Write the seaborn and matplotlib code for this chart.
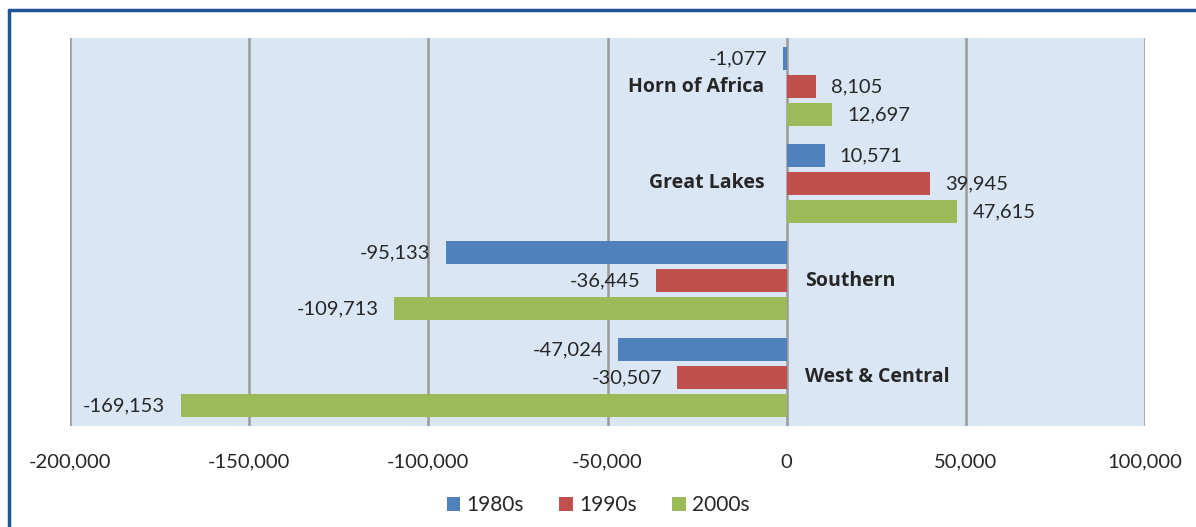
import pandas as pd
import seaborn as sns
from matplotlib import pyplot as plt
from matplotlib.lines import Line2D

# 地域と年代ごとの値
regions = ["Horn of Africa", "Great Lakes", "Southern", "West & Central"]
decades = ["1980s", "1990s", "2000s"]
values_1980s = [-1077, 10571, -95133, -47024]
values_1990s = [8105, 39945, -36445, -30507]
values_2000s = [12697, 47615, -109713, -169153]
x_ticks = [-200000, -150000, -100000, -50000, 0, 50000, 100000]

colors = ["#4f81bd", "#c0504d", "#9bbb59"]


def build_df():
    rows = []
    for dec, vals in zip(decades, [values_1980s, values_1990s, values_2000s]):
        for reg, v in zip(regions, vals):
            rows.append({"region": reg, "decade": dec, "value": v})
    return pd.DataFrame(rows)


df = build_df()

sns.set_style("white")
plt.rcParams["font.family"] = ["Lato", "DejaVu Sans"]

fig = plt.figure(figsize=(11.96, 5.27), dpi=100)
ax = fig.add_axes([70 / 1196, 1 - 426 / 527, 1075 / 1196, 388 / 527])

sns.barplot(
    data=df, y="region", x="value", hue="decade", order=regions, hue_order=decades,
    palette=colors, orient="h", width=0.866, gap=0.18, ax=ax, saturation=1, linewidth=0,
)

ax.set_facecolor("#dae6f4")
ax.set_xlim(-200000, 100000)
ax.set_ylim(len(regions) - 0.5, -0.5)
ax.set_xticks(x_ticks)
ax.set_xticklabels([f"{t:,}" for t in x_ticks], fontsize=14.5)
ax.tick_params(axis="x", length=0, pad=20)
ax.set_yticks([])
ax.set_xlabel("")
ax.set_ylabel("")
for s in ax.spines.values():
    s.set_visible(False)
ax.grid(axis="x", color="#9a9a9a", linewidth=1.8)
ax.grid(axis="y", visible=False)
ax.set_axisbelow(True)

# 値ラベル
for cont in ax.containers:
    ax.bar_label(cont, labels=[f"{b.get_width():,.0f}" for b in cont], padding=11, fontsize=14.5)

# 地域ラベル
for i, reg in enumerate(regions):
    total = values_1980s[i] + values_1990s[i] + values_2000s[i]
    if total >= 0:
        ax.annotate(reg, (0, i), xytext=(-16, 0), textcoords="offset points", ha="right", va="center",
                    fontsize=14, fontweight="bold", color="#262626", family=["Open Sans", "DejaVu Sans"])
    else:
        ax.annotate(reg, (0, i), xytext=(13, 0), textcoords="offset points", ha="left", va="center",
                    fontsize=14, fontweight="bold", color="#262626", family=["Open Sans", "DejaVu Sans"])

# 凡例
handles, labels = ax.get_legend_handles_labels()
ax.get_legend().remove()
fig.legend(handles, labels, loc="center", bbox_to_anchor=(0.5, 1 - 505 / 527), ncol=3, frameon=False,
           fontsize=15, handlelength=0.65, handleheight=0.65, columnspacing=1.7, handletextpad=0.3)

# 外枠
fig.add_artist(Line2D([9 / 1196, 1], [1 - 10 / 527, 1 - 10 / 527], color="#1f5597", linewidth=2.5,
                      transform=fig.transFigure))
fig.add_artist(Line2D([9 / 1196, 9 / 1196], [0, 1 - 10 / 527], color="#1f5597", linewidth=2.5,
                      transform=fig.transFigure))

fig.savefig("out.png", dpi=100)
